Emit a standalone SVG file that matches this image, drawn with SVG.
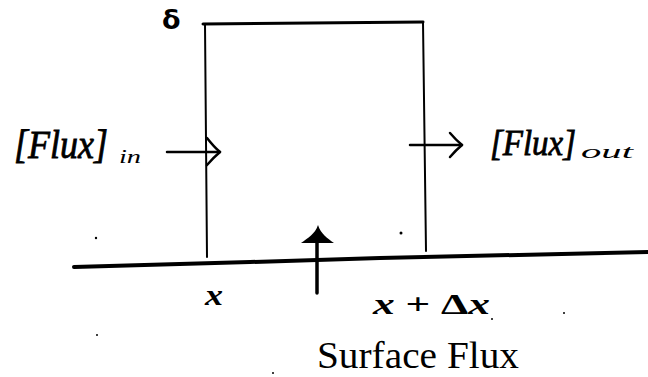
<svg xmlns="http://www.w3.org/2000/svg" width="648" height="377" viewBox="0 0 648 377">
<style>
.ln{fill:none;stroke:#000;stroke-linecap:round;stroke-linejoin:round}
.it{font-family:"Liberation Serif",serif;font-style:italic;fill:#000}
.hv{stroke:#000;stroke-width:0.8}
.bd{font-family:"Liberation Serif",serif;font-weight:bold;fill:#000}
.rm{font-family:"Liberation Serif",serif;fill:#000}
.dot{fill:#000}
</style>
<rect width="648" height="377" fill="#fff"/>
<g id="control-volume">
<path class="ln" d="M203,24 L423,22" stroke-width="3"/>
<path class="ln" d="M205,24 L207,257" stroke-width="2"/>
<path class="ln" d="M423,22 L426,251" stroke-width="2"/>
<text x="162" y="29" font-family="DejaVu Sans,sans-serif" font-weight="bold" font-size="27">δ</text>
</g>
<g id="surface">
<path class="ln" d="M74,267 L250,262 L380,258 L648,252" stroke-width="4"/>
</g>
<g id="flux-in">
<text class="it"><tspan class="hv" x="14" y="158" font-size="40" textLength="94" lengthAdjust="spacingAndGlyphs">[Flux]</tspan><tspan x="119" y="163" font-size="19" textLength="22" lengthAdjust="spacingAndGlyphs">in</tspan></text>
</g>
<g id="flux-out">
<text class="it"><tspan class="hv" x="490" y="155" font-size="35" textLength="86" lengthAdjust="spacingAndGlyphs">[Flux]</tspan><tspan x="581" y="158" font-size="19" textLength="52" lengthAdjust="spacingAndGlyphs">out</tspan></text>
</g>
<g id="labels">
<text class="bd" font-style="italic" x="205" y="305" font-size="30" textLength="18" lengthAdjust="spacingAndGlyphs">x</text>
<text class="bd" x="373" y="314" font-size="30" textLength="117" lengthAdjust="spacingAndGlyphs"><tspan font-style="italic">x</tspan> + Δ<tspan font-style="italic">x</tspan></text>
<text class="rm" x="317" y="368" font-size="38" textLength="202" lengthAdjust="spacingAndGlyphs">Surface Flux</text>
</g>
<g id="connectors">
<path class="ln" d="M167,152 L220,152" stroke-width="2.5"/>
<path class="ln" d="M207,138 Q214,147 220,152 Q214,157 207,165" stroke-width="2.5"/>
<path class="ln" d="M410,145 L462,145" stroke-width="2.5"/>
<path class="ln" d="M450,133 Q456,140 462,145 Q456,150 450,157" stroke-width="2.5"/>
<path class="ln" d="M317,240 L317,293" stroke-width="3.5"/>
<path d="M318,225 C321,234 327,238 334,243 L301,243 C308,238 315,234 318,225 Z" fill="#000"/>
</g>
<g id="specks">
<circle class="dot" cx="96" cy="238" r="1.2"/>
<circle class="dot" cx="401" cy="233" r="1.5"/>
<circle class="dot" cx="492" cy="319" r="1"/>
<circle class="dot" cx="564" cy="313" r="1"/>
<circle class="dot" cx="97" cy="335" r="1"/>
<circle class="dot" cx="273" cy="373" r="1"/>
</g>
</svg>
